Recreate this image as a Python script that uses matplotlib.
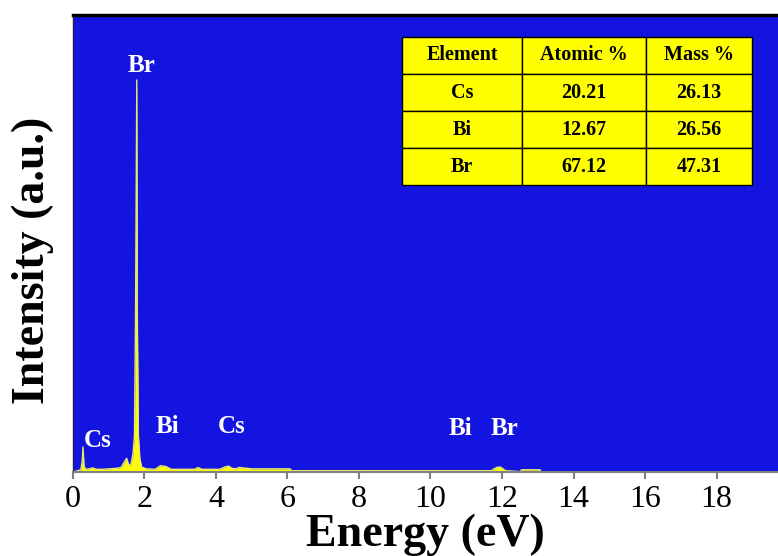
import matplotlib.pyplot as plt

plt.rcParams["font.family"] = ["Liberation Serif", "DejaVu Serif"]

# EDS spectrum (energy in eV, intensity in a.u.)
energy = [0.0, 0.22, 0.26, 0.28, 0.31, 0.36, 0.45, 0.55, 0.65, 0.8, 1.0, 1.2,
          1.35, 1.42, 1.5, 1.56, 1.62, 1.68, 1.72, 1.75, 1.785, 1.80, 1.83, 1.87,
          1.92, 2.05, 2.3, 2.45, 2.6, 2.75, 3.0, 3.4, 3.5, 3.6, 4.1, 4.25, 4.35,
          4.45, 4.55, 4.65, 5.0, 5.5, 6.07, 6.12, 8.0, 10.0, 11.7, 11.85, 11.95,
          12.1, 12.5, 12.55, 12.8, 13.06, 13.1, 19.8]
counts = [0.0, 0.5, 2.5, 5.5, 1.2, 0.6, 0.7, 0.9, 0.6, 0.6, 0.7, 0.8,
          1.0, 2.0, 3.0, 1.6, 1.6, 4.0, 8.0, 34.0, 85.8, 34.0, 8.0, 3.0,
          1.1, 0.7, 0.6, 1.4, 1.2, 0.6, 0.6, 0.6, 1.0, 0.6, 0.6, 1.1, 1.3,
          0.8, 0.7, 1.0, 0.7, 0.7, 0.7, 0.3, 0.3, 0.3, 0.3, 1.0, 1.1,
          0.3, 0.1, 0.5, 0.5, 0.5, 0.0, 0.0]

peak_labels = ["Br", "Cs", "Bi", "Cs", "Bi", "Br"]
label_x = [1.92, 0.70, 2.64, 4.43, 10.83, 12.06]
label_y = [87.5, 5.5, 8.5, 8.5, 8.1, 8.1]

col_labels = ["Element", "Atomic %", "Mass %"]
elements = ["Cs", "Bi", "Br"]
atomic = ["20.21", "12.67", "67.12"]
mass = ["26.13", "26.56", "47.31"]

fig = plt.figure(figsize=(7.78, 5.56), dpi=100)
ax = fig.add_axes([0.0938, 0.151, 0.9062, 0.822])
ax.set_facecolor("#1414E0")

ax.fill_between(energy, counts, 0, color="#FFFF00", lw=0)
ax.plot(energy, counts, color="#E8E870", lw=1.0)

for t, x, y in zip(peak_labels, label_x, label_y):
    ax.text(x, y, t, color="white", fontsize=18, fontweight="bold",
            ha="center", va="baseline")

ax.set_xlim(0, 19.72)
ax.set_ylim(0, 100)
ax.set_xticks(range(0, 19, 2))
ax.set_yticks([])
ax.tick_params(axis="x", direction="out", length=5, width=1.5, color="#808080",
               labelsize=23, pad=4)

ax.spines["right"].set_visible(False)
ax.spines["top"].set_linewidth(2.5)
ax.spines["top"].set_color("black")
ax.spines["left"].set_color("#202040")
ax.spines["left"].set_linewidth(1.0)
ax.spines["bottom"].set_color("#808080")
ax.spines["bottom"].set_linewidth(1.5)

ax.set_xlabel("Energy (eV)", fontsize=33, fontweight="bold", labelpad=0)
ax.set_ylabel("Intensity (a.u.)", fontsize=33, fontweight="bold")
ax.yaxis.set_label_coords(-0.027, 0.464)

rows = [[e, a, m] for e, a, m in zip(elements, atomic, mass)]
tbl = ax.table(cellText=rows, colLabels=col_labels, cellLoc="center",
               colWidths=[120, 124, 106],
               bbox=[0.4667, 0.628, 0.4965, 0.3239])
tbl.auto_set_font_size(False)
for (r, c), cell in tbl.get_celld().items():
    cell.set_facecolor("#FFFF00")
    cell.set_edgecolor("black")
    cell.set_linewidth(1.0)
    cell.get_text().set_fontsize(14.5)
    cell.get_text().set_fontweight("bold")

fig.savefig("out.png", dpi=100)
